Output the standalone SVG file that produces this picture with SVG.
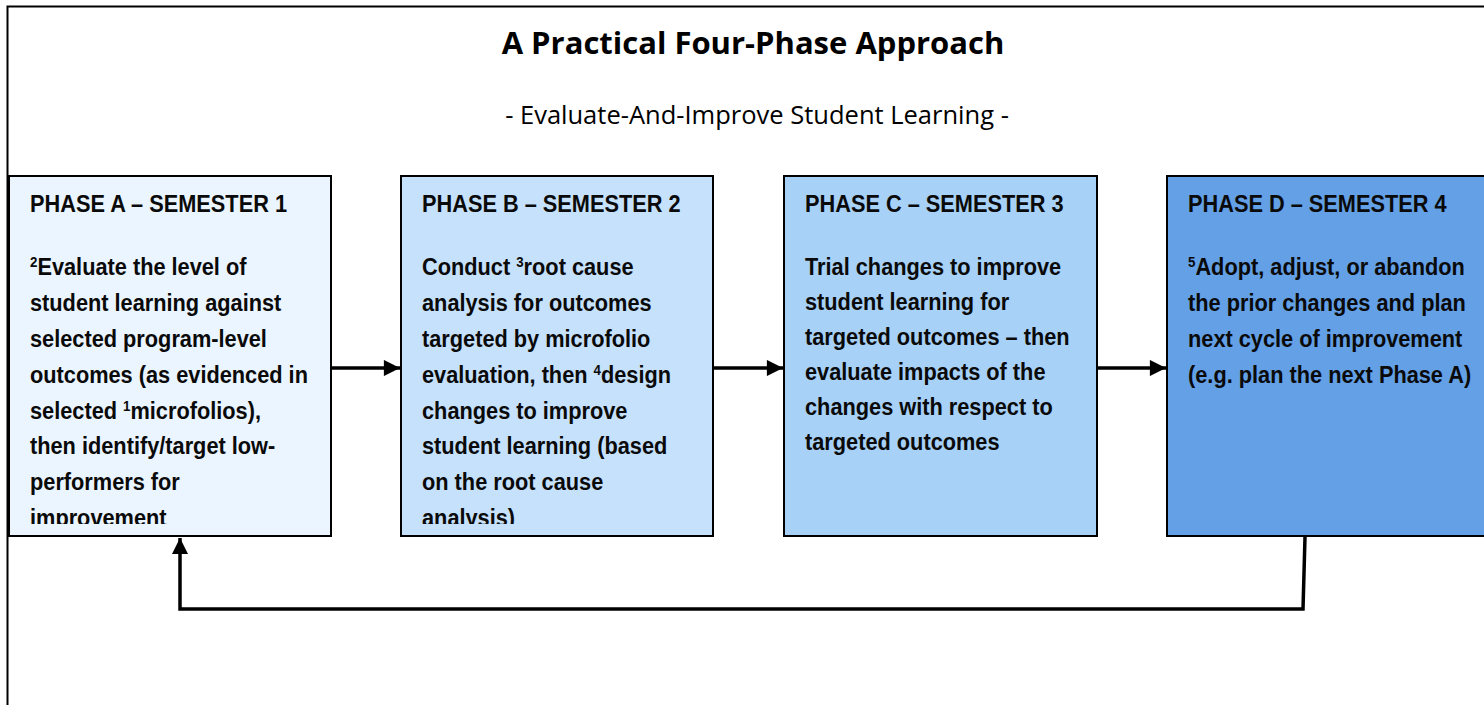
<svg xmlns="http://www.w3.org/2000/svg" width="1484" height="705" viewBox="0 0 1484 705">
  <style>
    .frame { fill: none; stroke: #000; stroke-width: 2; }
    .box { stroke: #000; stroke-width: 2; }
    .title { font-family: "Open Sans", "Liberation Sans", sans-serif; font-weight: bold; font-size: 31px; fill: #000; }
    .subtitle { font-family: "Open Sans", "Liberation Sans", sans-serif; font-size: 25.5px; fill: #000; }
    .head, .body { font-family: "Liberation Sans", Arial, sans-serif; font-weight: bold; font-size: 24.5px; fill: #0a0a0a; }
    .sup { font-size: 15px; }
    .conn { fill: none; stroke: #000; stroke-width: 3.5; }
  </style>
  <defs>
    <marker id="arrow" viewBox="0 0 10 10" refX="10" refY="5" markerWidth="5" markerHeight="4.6" markerUnits="strokeWidth" orient="auto">
      <path d="M0,0 L10,5 L0,10 Z" fill="#000"/>
    </marker>
    <clipPath id="clipA"><rect x="10" y="177" width="320" height="347"/></clipPath>
    <clipPath id="clipB"><rect x="402" y="177" width="310" height="347"/></clipPath>
  </defs>

  <rect width="1484" height="705" fill="#fff"/>
  <!-- outer frame (open on the right and bottom) -->
  <path class="frame" d="M7.5,705 V6.5 H1484"/>

  <g id="heading">
    <text class="title" x="753" y="54" text-anchor="middle">A Practical Four-Phase Approach</text>
    <text class="subtitle" x="757" y="124" text-anchor="middle">- Evaluate-And-Improve Student Learning -</text>
  </g>

  <!-- box texts use a condensed (narrow) horizontal scale -->
  <g id="phase-a">
    <rect class="box" x="9" y="176" width="322" height="360" fill="#EBF5FF"/>
    <g clip-path="url(#clipA)">
      <g transform="translate(30 0) scale(0.888 1)">
        <text class="head" x="0" y="212">PHASE A – SEMESTER 1</text>
        <text class="body" x="0" y="275"><tspan class="sup" dy="-8">2</tspan><tspan dy="8">Evaluate the level of</tspan></text>
        <text class="body" x="0" y="311">student learning against</text>
        <text class="body" x="0" y="347">selected program-level</text>
        <text class="body" x="0" y="383">outcomes (as evidenced in</text>
        <text class="body" x="0" y="419">selected <tspan class="sup" dy="-8">1</tspan><tspan dy="8">microfolios),</tspan></text>
        <text class="body" x="0" y="454">then identify/target low-</text>
        <text class="body" x="0" y="490">performers for</text>
        <text class="body" x="0" y="526">improvement</text>
      </g>
    </g>
  </g>

  <g id="phase-b">
    <rect class="box" x="401" y="176" width="312" height="360" fill="#C6E1FC"/>
    <g clip-path="url(#clipB)">
      <g transform="translate(422 0) scale(0.888 1)">
        <text class="head" x="0" y="212">PHASE B – SEMESTER 2</text>
        <text class="body" x="0" y="275">Conduct <tspan class="sup" dy="-8">3</tspan><tspan dy="8">root cause</tspan></text>
        <text class="body" x="0" y="311">analysis for outcomes</text>
        <text class="body" x="0" y="347">targeted by microfolio</text>
        <text class="body" x="0" y="383">evaluation, then <tspan class="sup" dy="-8">4</tspan><tspan dy="8">design</tspan></text>
        <text class="body" x="0" y="419">changes to improve</text>
        <text class="body" x="0" y="454">student learning (based</text>
        <text class="body" x="0" y="490">on the root cause</text>
        <text class="body" x="0" y="526">analysis)</text>
      </g>
    </g>
  </g>

  <g id="phase-c">
    <rect class="box" x="784" y="176" width="313" height="360" fill="#A7D1F7"/>
    <g transform="translate(805 0) scale(0.888 1)">
      <text class="head" x="0" y="212">PHASE C – SEMESTER 3</text>
      <text class="body" x="0" y="275">Trial changes to improve</text>
      <text class="body" x="0" y="310">student learning for</text>
      <text class="body" x="0" y="345">targeted outcomes – then</text>
      <text class="body" x="0" y="380">evaluate impacts of the</text>
      <text class="body" x="0" y="415">changes with respect to</text>
      <text class="body" x="0" y="450">targeted outcomes</text>
    </g>
  </g>

  <g id="phase-d">
    <rect class="box" x="1167" y="176" width="330" height="360" fill="#63A0E6"/>
    <g transform="translate(1188 0) scale(0.888 1)">
      <text class="head" x="0" y="212">PHASE D – SEMESTER 4</text>
      <text class="body" x="0" y="275"><tspan class="sup" dy="-8">5</tspan><tspan dy="8">Adopt, adjust, or abandon</tspan></text>
      <text class="body" x="0" y="311">the prior changes and plan</text>
      <text class="body" x="0" y="347">next cycle of improvement</text>
      <text class="body" x="0" y="383">(e.g. plan the next Phase A)</text>
    </g>
  </g>

  <g id="connectors">
    <path class="conn" d="M330,368 H400" marker-end="url(#arrow)"/>
    <path class="conn" d="M713,368 H783" marker-end="url(#arrow)"/>
    <path class="conn" d="M1097,368 H1166" marker-end="url(#arrow)"/>
    <path class="conn" d="M1305,537 L1303,609 H180 V538" marker-end="url(#arrow)"/>
  </g>
</svg>
